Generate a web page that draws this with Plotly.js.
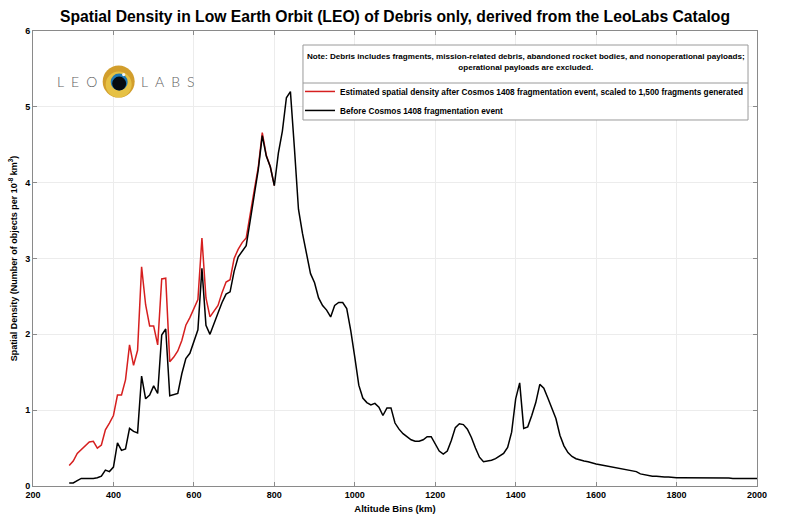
<!DOCTYPE html>
<html>
<head>
<meta charset="utf-8">
<script src="https://cdn.plot.ly/plotly-3.0.1.min.js"></script>
<style>
  body { margin: 0; background: #fff; }
  #graph { width: 788px; height: 529px; }
</style>
</head>
<body>
<div id="graph"></div>
<script>
// altitude bins (km), 10 km wide
const altitudes = [
  290, 300, 310, 320, 330, 340, 350, 360, 370, 380,
  390, 400, 410, 420, 430, 440, 450, 460, 470, 480,
  490, 500, 510, 520, 530, 540, 550, 560, 570, 580,
  590, 600, 610, 620, 630, 640, 650, 660, 670, 680,
  690, 700, 710, 720, 730, 740, 750, 760, 770, 780,
  790, 800, 810, 820, 830, 840, 850, 860, 870, 880,
  890, 900, 910, 920, 930, 940, 950, 960, 970, 980,
  990, 1000, 1010, 1020, 1030, 1040, 1050, 1060, 1070, 1080,
  1090, 1100, 1110, 1120, 1130, 1140, 1150, 1160, 1170, 1180,
  1190, 1200, 1210, 1220, 1230, 1240, 1250, 1260, 1270, 1280,
  1290, 1300, 1310, 1320, 1330, 1340, 1350, 1360, 1370, 1380,
  1390, 1400, 1410, 1420, 1430, 1440, 1450, 1460, 1470, 1480,
  1490, 1500, 1510, 1520, 1530, 1540, 1550, 1560, 1570, 1580,
  1590, 1600, 1610, 1620, 1630, 1640, 1650, 1660, 1670, 1680,
  1690, 1700, 1710, 1720, 1730, 1740, 1750, 1760, 1770, 1780,
  1790, 1800, 1810, 1820, 1830, 1840, 1850, 1860, 1870, 1880,
  1890, 1900, 1910, 1920, 1930, 1940, 1950, 1960, 1970, 1980,
  1990, 2000
];

// before Cosmos 1408 (objects per 10^-8 km^3)
const before = [
  0.04, 0.04, 0.07, 0.10, 0.10, 0.10, 0.10, 0.11, 0.13, 0.21,
  0.19, 0.25, 0.57, 0.47, 0.49, 0.76, 0.72, 0.70, 1.45, 1.15,
  1.20, 1.32, 1.22, 1.99, 2.07, 1.19, 1.20, 1.22, 1.48, 1.68,
  1.75, 1.92, 2.06, 2.87, 2.12, 2.00, 2.15, 2.28, 2.42, 2.53,
  2.56, 2.83, 3.02, 3.10, 3.17, 3.50, 3.85, 4.17, 4.62, 4.35,
  4.21, 3.96, 4.39, 4.68, 5.12, 5.20, 4.45, 3.65, 3.33, 3.05,
  2.80, 2.68, 2.48, 2.38, 2.32, 2.23, 2.38, 2.42, 2.42, 2.34,
  2.05, 1.70, 1.33, 1.16, 1.10, 1.07, 1.09, 1.04, 0.93, 1.03,
  1.03, 0.83, 0.75, 0.69, 0.65, 0.61, 0.59, 0.59, 0.61, 0.65,
  0.65, 0.55, 0.46, 0.42, 0.46, 0.60, 0.77, 0.82, 0.81, 0.75,
  0.64, 0.50, 0.38, 0.32, 0.33, 0.34, 0.36, 0.39, 0.43, 0.51,
  0.71, 1.15, 1.36, 0.76, 0.78, 0.93, 1.10, 1.34, 1.29, 1.16,
  1.03, 0.89, 0.67, 0.53, 0.44, 0.39, 0.36, 0.34, 0.33, 0.32,
  0.30, 0.29, 0.28, 0.27, 0.26, 0.25, 0.24, 0.23, 0.22, 0.21,
  0.20, 0.19, 0.16, 0.15, 0.14, 0.13, 0.13, 0.12, 0.12, 0.12,
  0.11, 0.11, 0.11, 0.11, 0.11, 0.11, 0.11, 0.11, 0.11, 0.11,
  0.11, 0.11, 0.11, 0.105, 0.105, 0.10, 0.10, 0.10, 0.10, 0.10,
  0.10, 0.10
];

// estimated after the event (1,500 fragments); merges with "before" above ~800 km
const after = [
  0.27, 0.33, 0.43, 0.48, 0.52, 0.58, 0.59, 0.50, 0.54, 0.74,
  0.83, 0.93, 1.20, 1.20, 1.40, 1.86, 1.59, 1.79, 2.89, 2.39,
  2.11, 2.11, 1.86, 2.73, 2.74, 1.64, 1.70, 1.78, 1.92, 2.12,
  2.22, 2.33, 2.46, 3.27, 2.48, 2.23, 2.30, 2.38, 2.55, 2.69,
  2.72, 3.00, 3.12, 3.21, 3.27, 3.56, 3.90, 4.20, 4.66, 4.36,
  4.21, 3.96
];

const xTicks = [200, 400, 600, 800, 1000, 1200, 1400, 1600, 1800, 2000];
const yTicks = [0, 1, 2, 3, 4, 5, 6];

const noteText = "Note: Debris includes fragments, mission-related debris, abandoned rocket bodies, and nonoperational payloads;<br>operational payloads are excluded.";
const font = "Liberation Sans, Arial, Helvetica, sans-serif";

const data = [
  {
    x: altitudes.slice(0, after.length),
    y: after,
    type: "scatter",
    mode: "lines",
    name: "Estimated spatial density after Cosmos 1408 fragmentation event, scaled to 1,500 fragments generated",
    line: { color: "#d61f1f", width: 1.5 }
  },
  {
    x: altitudes,
    y: before,
    type: "scatter",
    mode: "lines",
    name: "Before Cosmos 1408 fragmentation event",
    line: { color: "#000000", width: 1.5 }
  }
];

// logo pieces, placed in pixels around one anchor point
const logoX = 413;
const logoY = 5.333;
function dot(dx, dy, r, color) {
  return {
    type: "circle", xref: "x", yref: "y",
    xsizemode: "pixel", ysizemode: "pixel",
    xanchor: logoX, yanchor: logoY,
    x0: dx - r, x1: dx + r, y0: dy - r, y1: dy + r,
    fillcolor: color, line: { width: 0 }, layer: "above"
  };
}

const axisBase = {
  showline: true,
  linecolor: "#8a8a8a",
  linewidth: 1,
  mirror: "ticks",
  ticks: "inside",
  ticklen: 4,
  tickcolor: "#8a8a8a",
  gridcolor: "#ececec",
  zeroline: false,
  tickfont: { family: font, size: 9, color: "#000", weight: "bold" }
};

// note box (paper coords)
const box = { x0: 0.3729, x1: 0.9876, y0: 0.8044, y1: 0.9692, split: 0.8857 };

const layout = {
  width: 788,
  height: 529,
  margin: { l: 33, r: 31, t: 31, b: 43 },
  paper_bgcolor: "#fff",
  plot_bgcolor: "#fff",
  font: { family: font, color: "#000" },
  title: {
    text: "Spatial Density in Low Earth Orbit (LEO) of Debris only, derived from the LeoLabs Catalog",
    font: { family: font, size: 15.7, weight: "bold", color: "#000" },
    x: 0.5, xref: "paper", y: 0.968, yanchor: "middle"
  },
  xaxis: Object.assign({}, axisBase, {
    range: [200, 2000],
    tickvals: xTicks,
    title: { text: "Altitude Bins (km)", font: { family: font, size: 9.5, weight: "bold" }, standoff: 6 }
  }),
  yaxis: Object.assign({}, axisBase, {
    range: [0, 6],
    tickvals: yTicks,
    title: {
      text: "Spatial Density (Number of objects per 10<sup>-8</sup> km<sup>3</sup>)",
      font: { family: font, size: 9, weight: "bold" },
      standoff: 6
    }
  }),
  showlegend: true,
  legend: {
    x: 0.3688, y: 0.899, xanchor: "left", yanchor: "top",
    bgcolor: "rgba(0,0,0,0)",
    borderwidth: 0,
    font: { family: font, size: 8.25, weight: "bold", color: "#000" },
    itemwidth: 30,
    tracegroupgap: 0
  },
  shapes: [
    {
      type: "rect", xref: "paper", yref: "paper",
      x0: box.x0, x1: box.x1, y0: box.y0, y1: box.y1,
      fillcolor: "#fff", line: { color: "#9a9a9a", width: 1 }, layer: "above"
    },
    {
      type: "line", xref: "paper", yref: "paper",
      x0: box.x0, x1: box.x1, y0: box.split, y1: box.split,
      line: { color: "#9a9a9a", width: 1 }, layer: "above"
    },
    dot(0, 0, 16, "#d29e2c"),
    dot(0, -3, 13, "#e6c144"),
    dot(0.5, -0.5, 8.5, "#1f78b4"),
    dot(0.5, -2, 7, "#050a10"),
    dot(5, 7, 1.6, "#f2f6fa")
  ],
  annotations: [
    {
      x: (box.x0 + box.x1) / 2, y: 0.9308, xref: "paper", yref: "paper",
      xanchor: "center", yanchor: "middle",
      text: noteText, showarrow: false, align: "center",
      font: { family: font, size: 8.1, weight: "bold", color: "#000" }
    },
    {
      x: logoX, y: logoY, xref: "x", yref: "y",
      xshift: -42, text: "L\u2002E\u2002O", showarrow: false,
      font: { family: "Lato, Open Sans, sans-serif", size: 14, weight: 300, color: "#606060" }
    },
    {
      x: logoX, y: logoY, xref: "x", yref: "y",
      xshift: 49, text: "L\u2002A\u2002B\u2002S", showarrow: false,
      font: { family: "Lato, Open Sans, sans-serif", size: 14, weight: 300, color: "#606060" }
    }
  ]
};

Plotly.newPlot("graph", data, layout, { displayModeBar: false, staticPlot: true });
</script>
</body>
</html>
